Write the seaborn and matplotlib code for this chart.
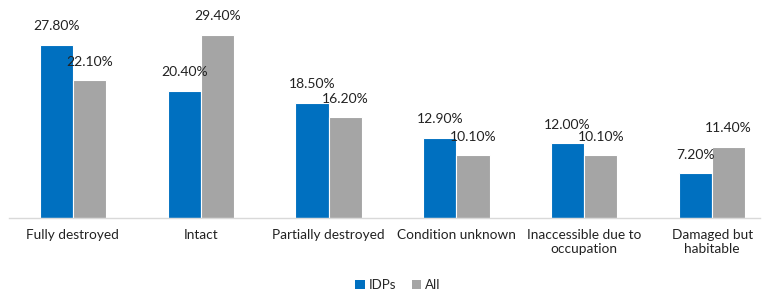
import matplotlib
matplotlib.use("Agg")
import matplotlib.pyplot as plt
import seaborn as sns
import pandas as pd
from matplotlib.patches import Patch

categories = ["Fully destroyed", "Intact", "Partially destroyed", "Condition unknown",
              "Inaccessible due to\noccupation", "Damaged but\nhabitable"]
idps = [27.8, 20.4, 18.5, 12.9, 12.0, 7.2]
all_vals = [22.1, 29.4, 16.2, 10.1, 10.1, 11.4]
series = ["IDPs", "All"]
colors = ["#0070C0", "#A5A5A5"]

df = pd.DataFrame({
    "category": categories * 2,
    "value": idps + all_vals,
    "series": [series[0]] * len(categories) + [series[1]] * len(categories),
})

sns.set_theme(style="white")
plt.rcParams['font.family'] = ['Lato', 'DejaVu Sans']

fig = plt.figure(figsize=(7.68, 2.95), dpi=100)
ax = fig.add_axes([9/768, 1 - 218/295, (760-9)/768, 218/295])
sns.barplot(data=df, x="category", y="value", hue="series", palette=colors,
            saturation=1, width=0.52, ax=ax, edgecolor="white", linewidth=0.8,
            legend=False)

for cont in ax.containers:
    ax.bar_label(cont, labels=[f"{v:.2f}%" for v in cont.datavalues],
                 padding=9, fontsize=10, color="#222222")

ax.set_ylim(0, 35)
ax.set_xlim(-0.5, 5.375)
ax.set_xlabel("")
ax.set_ylabel("")
ax.set_yticks([])
ax.tick_params(axis="x", length=0, pad=8, labelsize=9.8, labelcolor="#222222")
for s in ["top", "right", "left"]:
    ax.spines[s].set_visible(False)
ax.spines["bottom"].set_color("#D9D9D9")
ax.spines["bottom"].set_linewidth(1)

handles = [Patch(facecolor=c, edgecolor="none") for c in colors]
fig.legend(handles, series, loc="center", bbox_to_anchor=(398/768, 1 - 285/295),
           ncol=2, frameon=False, fontsize=9.5, handlelength=0.7, handleheight=0.7,
           handletextpad=0.3, columnspacing=1.2)

fig.savefig("out.png", dpi=100)
